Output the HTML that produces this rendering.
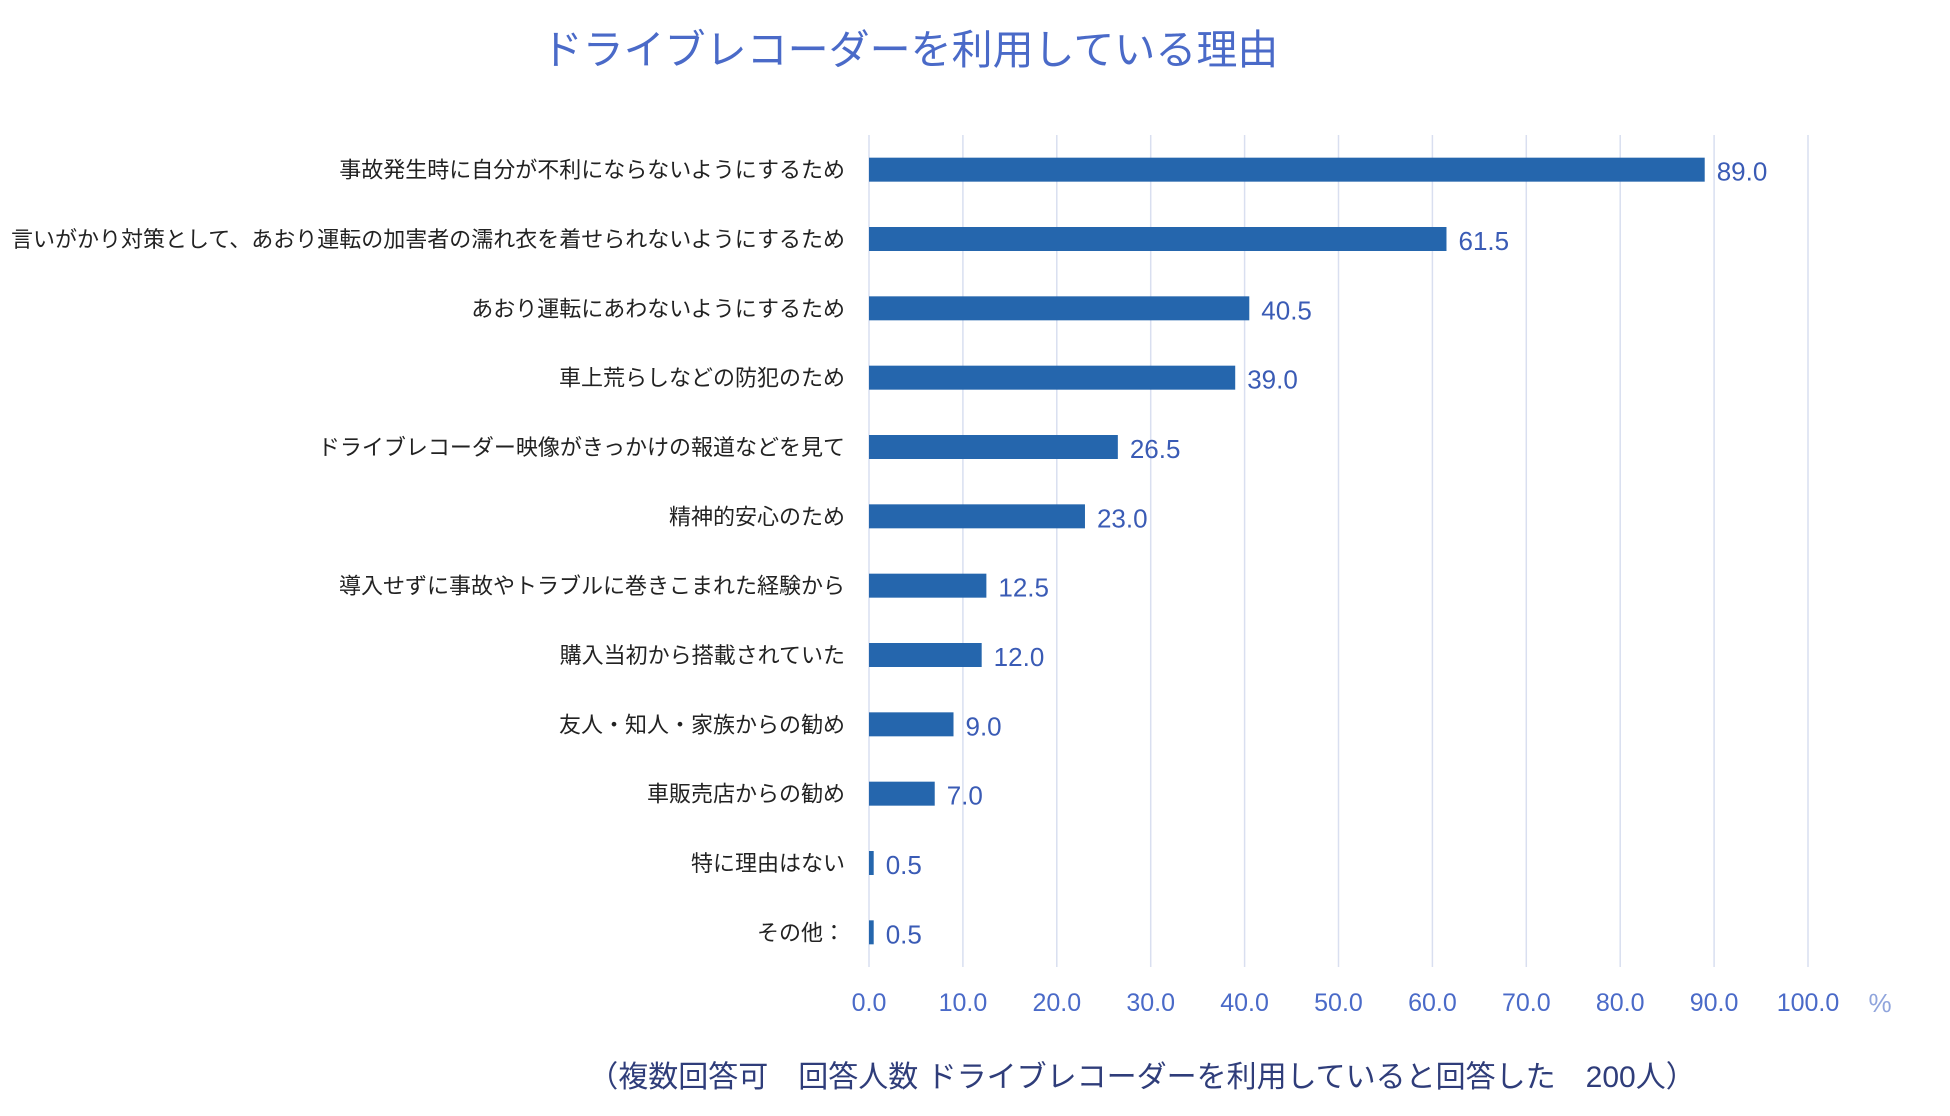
<!DOCTYPE html>
<html><head><meta charset="utf-8"><style>
body{margin:0;width:1950px;height:1111px;background:#fff;overflow:hidden}
svg text{font-family:"Liberation Sans","Noto Sans CJK JP",sans-serif}
</style></head><body>
<svg id="c" width="1950" height="1111">
<text x="910" y="64" text-anchor="middle" font-size="41" fill="#4a6ac8">ドライブレコーダーを利用している理由</text>
<text x="1142" y="1087" text-anchor="middle" font-size="30" fill="#2f3d7a">（複数回答可　回答人数 ドライブレコーダーを利用していると回答した　200人）</text>
<text x="1880" y="1012" text-anchor="middle" font-size="26" fill="#8fa4dc">%</text>
</svg>
<script>
const categories=["事故発生時に自分が不利にならないようにするため","言いがかり対策として、あおり運転の加害者の濡れ衣を着せられないようにするため","あおり運転にあわないようにするため","車上荒らしなどの防犯のため","ドライブレコーダー映像がきっかけの報道などを見て","精神的安心のため","導入せずに事故やトラブルに巻きこまれた経験から","購入当初から搭載されていた","友人・知人・家族からの勧め","車販売店からの勧め","特に理由はない","その他："];
const values=[89.0,61.5,40.5,39.0,26.5,23.0,12.5,12.0,9.0,7.0,0.5,0.5];
const ticks=[0,10,20,30,40,50,60,70,80,90,100];
(function(){
const svg=document.getElementById('c');const NS='http://www.w3.org/2000/svg';
const x0=869,x1=1808,yTop=135,yBot=967;
const xs=v=>x0+(x1-x0)*v/100;
const band=(yBot-yTop)/categories.length;
const yc=i=>yTop+band*(i+0.5);
function mk(t,a){const e=document.createElementNS(NS,t);for(const k in a)e.setAttribute(k,a[k]);svg.appendChild(e);return e;}
ticks.forEach(t=>{
 const g=mk('line',{x1:xs(t),x2:xs(t),y1:yTop,y2:yBot,stroke:'#d9dff0','stroke-width':1.5});
 
 
 const l=mk('text',{x:xs(t),y:1011,'text-anchor':'middle','font-size':25,fill:'#4a6ac8'});
 l.textContent=t.toFixed(1);
 
 
});
categories.forEach((c,i)=>{
 const y=yc(i);
 const b=mk('rect',{x:x0,y:y-12,width:Math.max(xs(values[i])-x0,3),height:24,fill:'#2566ad'});
 
 
 const l=mk('text',{x:845,y:y+8,'text-anchor':'end','font-size':22,fill:'#222'});
 l.textContent=c;
 
 
 const v=mk('text',{x:xs(values[i])+12,y:y+11,'font-size':26,fill:'#3a5bb5'});
 v.textContent=values[i].toFixed(1);
 
 
});
})();
</script>
</body></html>
